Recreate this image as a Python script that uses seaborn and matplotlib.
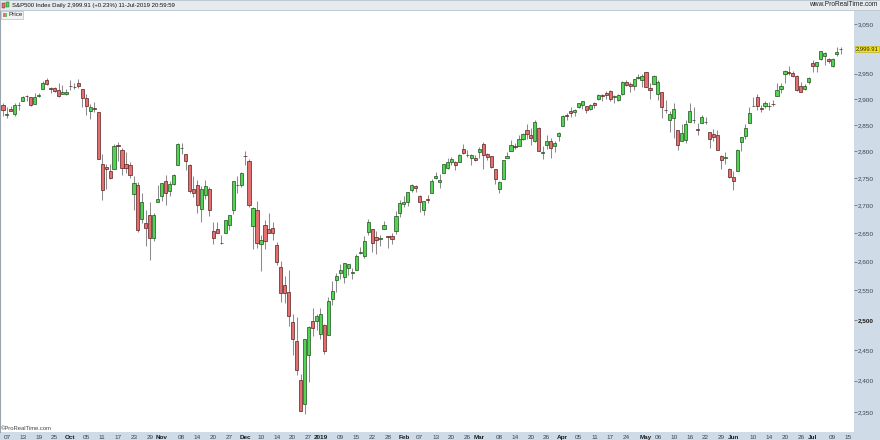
import numpy as np
import pandas as pd
import matplotlib
matplotlib.use("Agg")
import matplotlib.pyplot as plt
import matplotlib.transforms as mtransforms
from matplotlib.patches import Rectangle
import seaborn as sns


# ======================================
# DATA  (S&P500 daily, 06-Sep-2018 .. 11-Jul-2019)
# ======================================

market_holidays = ["2018-11-22", "2018-12-05", "2018-12-25", "2019-01-01",
                   "2019-01-21", "2019-02-18", "2019-04-19", "2019-05-27",
                   "2019-07-04"]

opens = [
    2888.64, 2868.26, 2881.39, 2871.57, 2888.29, 2896.85, 2906.38, 2903.83, 2890.74, 2906.60, 2919.73, 2936.76, 2921.83, 2921.75, 2916.98, 2909.64, 2910.03,
    2926.29, 2923.80, 2931.69, 2919.35, 2902.54, 2877.53, 2882.51, 2873.90, 2776.87, 2770.54, 2763.83, 2767.05, 2811.67, 2802.00, 2775.66, 2773.94, 2721.03, 2737.87, 2674.88, 2667.86, 2682.65, 2640.68, 2705.60,
    2717.58, 2745.45, 2726.37, 2738.40, 2774.13, 2806.38, 2794.10, 2773.93, 2730.05, 2737.90, 2693.52, 2718.54, 2730.74, 2654.60, 2657.74, 2633.36, 2649.97, 2663.75, 2691.45, 2736.97, 2737.76,
    2790.50, 2782.43, 2663.51, 2691.26, 2630.86, 2664.44, 2658.23, 2658.70, 2629.68, 2590.75, 2559.90, 2547.05, 2496.77, 2465.38, 2400.56, 2363.12, 2442.50, 2498.77, 2498.94,
    2476.96, 2491.92, 2474.33, 2535.61, 2568.11, 2580.00, 2573.51, 2588.11, 2580.31, 2585.10, 2614.75, 2609.28, 2651.27, 2657.88, 2643.48, 2638.84, 2657.44, 2644.97, 2644.89, 2653.62, 2685.49,
    2702.32, 2706.49, 2728.34, 2735.05, 2717.53, 2692.36, 2712.40, 2722.61, 2750.30, 2743.50, 2760.24, 2769.28, 2779.05, 2780.67, 2780.67, 2804.35, 2792.36, 2787.50, 2788.11,
    2798.22, 2814.37, 2794.41, 2790.27, 2766.53, 2730.79, 2747.61, 2787.34, 2799.78, 2810.38, 2810.79, 2822.61, 2840.76, 2831.34, 2819.72, 2844.52, 2796.01, 2812.66, 2819.72, 2809.40, 2828.27,
    2848.63, 2868.24, 2876.09, 2873.99, 2884.16, 2888.46, 2886.58, 2881.37, 2891.92, 2900.86, 2908.32, 2912.26, 2916.04, 2904.81, 2898.78, 2909.99, 2934.00, 2928.99, 2925.81, 2940.58, 2937.14,
    2952.33, 2922.16, 2929.21, 2908.89, 2913.03, 2879.61, 2859.84, 2863.10, 2840.19, 2820.12, 2820.38, 2855.80, 2858.60, 2841.94, 2854.02, 2856.06, 2836.70, 2832.41, 2830.03, 2790.25, 2786.94, 2766.15,
    2751.53, 2762.64, 2818.09, 2828.51, 2852.87, 2885.83, 2903.27, 2882.73, 2886.24, 2886.82, 2889.75, 2906.71, 2920.55, 2949.60, 2952.71, 2951.42, 2945.78, 2926.07, 2919.66, 2932.94,
    2971.41, 2964.66, 2978.08, 2984.25, 2979.77, 2965.52, 2989.30, 2999.62,
]

highs = [
    2892.05, 2883.81, 2886.93, 2892.52, 2894.65, 2906.76, 2908.30, 2904.65, 2911.17, 2912.36, 2934.80, 2940.91, 2923.79, 2923.95, 2931.15, 2927.11, 2920.53,
    2937.06, 2931.42, 2939.86, 2919.78, 2909.64, 2889.45, 2894.83, 2874.02, 2795.14, 2775.77, 2775.99, 2813.46, 2816.94, 2806.04, 2797.77, 2778.94, 2753.59, 2742.59, 2722.70, 2692.38, 2706.85, 2685.43, 2736.69,
    2741.67, 2756.55, 2744.27, 2756.82, 2815.15, 2814.75, 2794.10, 2775.99, 2754.60, 2746.80, 2735.38, 2746.75, 2733.16, 2669.44, 2670.73, 2647.55, 2674.35, 2682.53, 2744.00, 2753.75, 2760.88,
    2800.18, 2785.93, 2696.15, 2708.54, 2647.51, 2674.35, 2685.44, 2670.19, 2635.07, 2601.13, 2573.99, 2585.29, 2509.63, 2504.41, 2410.34, 2467.76, 2489.10, 2520.27, 2509.24,
    2519.49, 2493.14, 2538.07, 2566.16, 2579.82, 2595.32, 2597.82, 2596.27, 2589.32, 2613.08, 2625.76, 2645.06, 2675.47, 2657.88, 2653.19, 2647.20, 2672.38, 2644.97, 2650.93, 2690.44, 2708.95,
    2716.66, 2724.99, 2738.98, 2738.08, 2719.32, 2708.07, 2718.05, 2748.19, 2761.85, 2757.90, 2775.66, 2787.33, 2789.88, 2781.58, 2794.20, 2813.49, 2803.12, 2795.76, 2793.73,
    2808.02, 2816.88, 2796.44, 2790.27, 2767.25, 2744.13, 2784.00, 2798.32, 2821.24, 2815.00, 2830.73, 2835.41, 2852.42, 2843.54, 2860.31, 2846.16, 2809.79, 2829.87, 2825.56, 2819.71, 2836.03,
    2869.40, 2872.90, 2885.25, 2881.28, 2893.24, 2895.95, 2886.88, 2889.71, 2893.42, 2910.54, 2909.60, 2916.06, 2918.00, 2908.40, 2909.51, 2936.31, 2936.83, 2933.10, 2939.88, 2949.52, 2948.22,
    2954.13, 2931.68, 2947.85, 2937.32, 2913.03, 2897.96, 2875.97, 2891.31, 2840.19, 2852.54, 2858.68, 2892.15, 2885.48, 2853.86, 2868.88, 2865.47, 2836.70, 2841.36, 2840.51, 2792.03, 2799.00, 2768.98,
    2763.07, 2804.49, 2827.28, 2852.10, 2884.97, 2904.77, 2910.61, 2888.57, 2895.24, 2894.45, 2897.27, 2930.79, 2931.74, 2958.06, 2964.15, 2954.92, 2946.52, 2932.59, 2929.30, 2943.98,
    2977.93, 2973.21, 2995.84, 2994.03, 2980.76, 2981.90, 3002.98, 3002.33,
]

lows = [
    2867.29, 2864.12, 2875.94, 2866.78, 2879.20, 2896.39, 2895.77, 2886.16, 2890.43, 2903.82, 2919.73, 2927.11, 2912.63, 2913.70, 2903.28, 2909.27, 2907.50,
    2917.91, 2919.37, 2921.36, 2883.92, 2869.29, 2862.08, 2874.27, 2784.86, 2710.51, 2729.44, 2749.03, 2766.91, 2781.81, 2755.18, 2760.27, 2749.22, 2691.43, 2651.89, 2667.84, 2628.16, 2603.54, 2635.34, 2705.60,
    2708.85, 2700.44, 2717.94, 2737.08, 2774.13, 2794.99, 2764.24, 2722.00, 2714.98, 2685.75, 2670.75, 2712.16, 2681.09, 2631.52, 2649.82, 2631.09, 2649.97, 2655.89, 2684.38, 2722.94, 2732.76,
    2773.38, 2697.18, 2621.53, 2623.14, 2583.23, 2621.30, 2650.26, 2637.27, 2593.84, 2530.54, 2528.71, 2488.96, 2441.18, 2408.55, 2351.10, 2346.58, 2397.94, 2472.89, 2482.82,
    2467.47, 2443.96, 2474.33, 2524.56, 2547.56, 2568.89, 2562.02, 2577.40, 2570.41, 2585.10, 2612.68, 2606.36, 2647.58, 2617.27, 2612.86, 2627.01, 2657.33, 2624.06, 2631.05, 2648.34, 2678.65,
    2696.88, 2698.75, 2724.03, 2724.15, 2687.26, 2681.83, 2703.79, 2722.61, 2748.63, 2731.23, 2760.24, 2767.29, 2774.06, 2764.55, 2779.11, 2794.99, 2789.47, 2775.13, 2782.51,
    2787.38, 2767.66, 2782.97, 2768.69, 2739.09, 2722.27, 2747.61, 2786.73, 2799.78, 2803.46, 2810.79, 2821.99, 2823.27, 2812.43, 2817.38, 2800.47, 2785.02, 2803.99, 2787.72, 2798.77, 2819.23,
    2848.63, 2858.75, 2865.17, 2867.14, 2882.99, 2880.78, 2873.33, 2879.13, 2881.99, 2898.37, 2896.48, 2900.71, 2895.45, 2891.90, 2896.35, 2908.53, 2926.05, 2912.84, 2917.56, 2939.35, 2924.11,
    2923.36, 2900.50, 2929.21, 2898.21, 2862.60, 2873.28, 2836.40, 2825.39, 2801.43, 2820.12, 2815.08, 2855.80, 2854.23, 2831.29, 2854.02, 2851.11, 2805.49, 2820.19, 2801.58, 2766.06, 2776.74, 2750.52,
    2728.81, 2762.64, 2800.92, 2822.45, 2852.87, 2885.51, 2878.53, 2874.68, 2881.99, 2879.62, 2887.30, 2905.44, 2911.43, 2931.50, 2946.87, 2944.05, 2916.01, 2912.99, 2918.57, 2929.05,
    2952.22, 2953.70, 2977.96, 2967.97, 2970.09, 2963.44, 2984.62, 2988.80,
]

closes = [
    2878.05, 2871.68, 2877.13, 2887.89, 2888.92, 2904.18, 2904.98, 2888.80, 2904.31, 2907.95, 2930.75, 2929.67, 2919.37, 2915.56, 2905.97, 2914.00, 2913.98,
    2924.59, 2923.43, 2925.51, 2901.61, 2885.57, 2884.43, 2880.34, 2785.68, 2728.37, 2767.13, 2750.79, 2809.92, 2809.21, 2768.78, 2767.78, 2755.88, 2740.69, 2656.10, 2705.57, 2658.69, 2641.25, 2682.63, 2711.74,
    2740.37, 2723.06, 2738.31, 2755.45, 2813.89, 2806.83, 2781.01, 2726.22, 2722.18, 2701.58, 2730.20, 2736.27, 2690.73, 2641.89, 2649.93, 2632.56, 2673.45, 2682.17, 2743.79, 2737.80, 2760.17,
    2790.37, 2700.06, 2695.95, 2633.08, 2637.72, 2636.78, 2651.07, 2650.54, 2599.95, 2545.94, 2546.16, 2506.96, 2467.42, 2416.62, 2351.10, 2467.70, 2488.83, 2485.74, 2506.85,
    2510.03, 2447.89, 2531.94, 2549.69, 2574.41, 2584.96, 2596.64, 2596.26, 2582.61, 2610.30, 2616.10, 2635.96, 2670.71, 2632.90, 2638.70, 2642.33, 2664.76, 2643.85, 2640.00, 2681.05, 2704.10,
    2706.53, 2724.87, 2737.70, 2731.61, 2706.05, 2707.88, 2709.80, 2744.73, 2753.03, 2745.73, 2775.60, 2779.76, 2784.70, 2774.88, 2792.67, 2796.11, 2793.90, 2792.38, 2784.49,
    2803.69, 2792.81, 2789.65, 2771.45, 2748.93, 2743.07, 2783.30, 2791.52, 2810.92, 2808.48, 2822.48, 2832.94, 2832.57, 2824.23, 2854.88, 2800.71, 2798.36, 2818.46, 2805.37, 2815.44, 2834.40,
    2867.19, 2867.24, 2873.40, 2879.39, 2892.74, 2895.77, 2878.20, 2888.21, 2888.32, 2907.41, 2905.58, 2907.06, 2900.45, 2905.03, 2907.97, 2933.68, 2927.25, 2926.17, 2939.88, 2943.03, 2945.83,
    2923.73, 2917.52, 2945.64, 2932.47, 2884.05, 2879.42, 2870.72, 2881.40, 2811.87, 2834.41, 2850.96, 2876.32, 2859.53, 2840.23, 2864.36, 2856.27, 2822.24, 2826.06, 2802.39, 2783.02, 2788.86, 2752.06,
    2744.45, 2803.27, 2826.15, 2843.49, 2873.34, 2886.73, 2885.72, 2879.84, 2891.64, 2886.98, 2889.67, 2917.75, 2926.46, 2954.18, 2950.46, 2945.35, 2917.38, 2913.78, 2924.92, 2941.76,
    2964.33, 2973.01, 2995.82, 2990.41, 2975.95, 2979.63, 2993.07, 2999.91,
]

tick_dates = ["2018-09-07", "2018-09-13", "2018-09-19", "2018-09-25", "2018-10-01",
              "2018-10-05", "2018-10-11", "2018-10-17", "2018-10-23", "2018-10-29",
              "2018-11-01", "2018-11-08", "2018-11-14", "2018-11-20", "2018-11-27",
              "2018-12-03", "2018-12-10", "2018-12-14", "2018-12-20", "2018-12-27",
              "2019-01-02", "2019-01-09", "2019-01-15", "2019-01-22", "2019-01-28",
              "2019-02-01", "2019-02-07", "2019-02-13", "2019-02-20", "2019-02-26",
              "2019-03-01", "2019-03-08", "2019-03-14", "2019-03-20", "2019-03-26",
              "2019-04-01", "2019-04-05", "2019-04-11", "2019-04-17", "2019-04-24",
              "2019-05-01", "2019-05-06", "2019-05-10", "2019-05-16", "2019-05-22",
              "2019-05-29", "2019-06-03", "2019-06-10", "2019-06-14", "2019-06-20",
              "2019-06-26", "2019-07-01", "2019-07-09", "2019-07-15"]

tick_labels = ["07", "13", "19", "25", "Oct", "05", "11", "17", "23", "29",
               "Nov", "08", "14", "20", "27", "Dec", "10", "14", "20", "27",
               "2019", "09", "15", "22", "28", "Feb", "07", "13", "20", "26",
               "Mar", "08", "14", "20", "26", "Apr", "05", "11", "17", "24",
               "May", "06", "10", "16", "22", "29", "Jun", "10", "14", "20",
               "26", "Jul", "09", "15"]

price_ticks = [2350, 2400, 2450, 2500, 2550, 2600, 2650, 2700,
               2750, 2800, 2850, 2900, 2950, 3050]

last_price = 2999.91
title_text = "S&P500 Index Daily 2,999.91 (+0.23%) 11-Jul-2019 20:59:59"


# ======================================
# BUILD DATAFRAME
# ======================================

sessions = pd.bdate_range("2018-09-06", "2019-07-15", freq="C",
                          holidays=market_holidays)

df = pd.DataFrame({
    "date": sessions[:len(closes)],
    "open": opens,
    "high": highs,
    "low": lows,
    "close": closes,
})
df["pos"] = np.arange(len(df))
df["up"] = df["close"] >= df["open"]

session_pos = {d.strftime("%Y-%m-%d"): i for i, d in enumerate(sessions)}
tick_pos = [session_pos[d] for d in tick_dates]


# ======================================
# STYLE
# ======================================

sns.set_theme(style="white")
plt.rcParams["font.family"] = ["Liberation Sans", "DejaVu Sans"]

STRIP = "#cfdbe6"
HEADER = "#e6ebf0"
GREEN = "#52d452"
GREEN_EDGE = "#1f4f1f"
RED = "#e27070"
RED_EDGE = "#5a2020"
WICK = "#8c8c8c"


# ======================================
# FIGURE
# ======================================

W, H = 880, 440
fig = plt.figure(figsize=(W / 100, H / 100), dpi=100, facecolor=STRIP)

ax = fig.add_axes([0, 8 / H, 854 / W, 422 / H])
ax.set_facecolor("white")

# header band
fig.patches.append(Rectangle((0, 1 - 10 / H), 1, 10 / H,
                             transform=fig.transFigure, facecolor=HEADER,
                             edgecolor="#b9c3cc", linewidth=0.6, zorder=0))

# wicks
ax.vlines(df["pos"], df["low"], df["high"], color=WICK, linewidth=0.75, zorder=1)

# bodies
up = df[df["up"]]
down = df[~df["up"]]

ax.bar(up["pos"], up["close"] - up["open"], bottom=up["open"], width=0.8,
       color=GREEN, edgecolor=GREEN_EDGE, linewidth=0.5, zorder=2)

ax.bar(down["pos"], down["close"] - down["open"], bottom=down["open"], width=0.8,
       color=RED, edgecolor=RED_EDGE, linewidth=0.5, zorder=2)

# scales
ax.set_yscale("log")
ax.set_ylim(2318.6, 3078.8)
ax.set_xlim(-0.74, 214.4)

ax.yaxis.tick_right()
ax.set_yticks(price_ticks)
ax.set_yticklabels([f"{p:,}" for p in price_ticks])
ax.yaxis.set_minor_locator(matplotlib.ticker.NullLocator())
ax.tick_params(axis="y", which="major", direction="out", length=2, width=0.6,
               color="#6a7580", pad=1, labelsize=4.6, labelcolor="#3a4550")
for lab in ax.get_yticklabels():
    if lab.get_text() == "2,500":
        lab.set_fontweight("bold")
        lab.set_color("#1a1a1a")

ax.set_xticks(tick_pos)
ax.set_xticklabels(tick_labels)
ax.tick_params(axis="x", direction="out", length=0, pad=2.5,
               labelsize=4.6, labelcolor="#3a4550")
for lab in ax.get_xticklabels():
    if not lab.get_text().isdigit() or lab.get_text() == "2019":
        lab.set_fontweight("bold")
        lab.set_color("#1a1a1a")

for side in ["top", "right", "bottom"]:
    ax.spines[side].set_visible(False)
ax.spines["left"].set_color("#9aa4ad")
ax.spines["left"].set_linewidth(0.8)

# last price tag
trans = mtransforms.blended_transform_factory(ax.transAxes, ax.transData)
ax.text(1.0015, last_price, f"{last_price:,.2f}", transform=trans,
        ha="left", va="center", fontsize=4.2, color="#222222", clip_on=False,
        bbox=dict(boxstyle="square,pad=0.08", facecolor="#f3e21c",
                  edgecolor="#b8a800", linewidth=0.4))

# header texts
fig.text(12 / W, 1 - 5 / H, title_text, ha="left", va="center",
         fontsize=4.3, color="#111111")
fig.text(878 / W, 1 - 5 / H, "www.ProRealTime.com", ha="right", va="center",
         fontsize=4.8, color="#222222")

# header icon
fig.patches.append(Rectangle((2 / W, 1 - 8 / H), 3 / W, 5 / H,
                             transform=fig.transFigure, facecolor=RED,
                             edgecolor=RED_EDGE, linewidth=0.3))
fig.patches.append(Rectangle((6 / W, 1 - 7 / H), 3 / W, 5 / H,
                             transform=fig.transFigure, facecolor=GREEN,
                             edgecolor=GREEN_EDGE, linewidth=0.3))

# "Price" legend box
fig.patches.append(Rectangle((1 / W, 1 - 19 / H), 22 / W, 8 / H,
                             transform=fig.transFigure, facecolor="#f0f2f4",
                             edgecolor="#a8b0b8", linewidth=0.4))
fig.patches.append(Rectangle((3 / W, 1 - 17 / H), 2 / W, 4 / H,
                             transform=fig.transFigure, facecolor=RED,
                             edgecolor="none"))
fig.patches.append(Rectangle((5 / W, 1 - 17 / H), 2 / W, 4 / H,
                             transform=fig.transFigure, facecolor=GREEN,
                             edgecolor="none"))
fig.text(8.5 / W, 1 - 15 / H, "Price", ha="left", va="center",
         fontsize=4.6, color="#222222")

# copyright
fig.text(1 / W, 1 - 428 / H, "\u00a9ProRealTime.com", ha="left", va="center",
         fontsize=4.2, color="#444444")

fig.savefig("out.png", dpi=100, facecolor=fig.get_facecolor())
